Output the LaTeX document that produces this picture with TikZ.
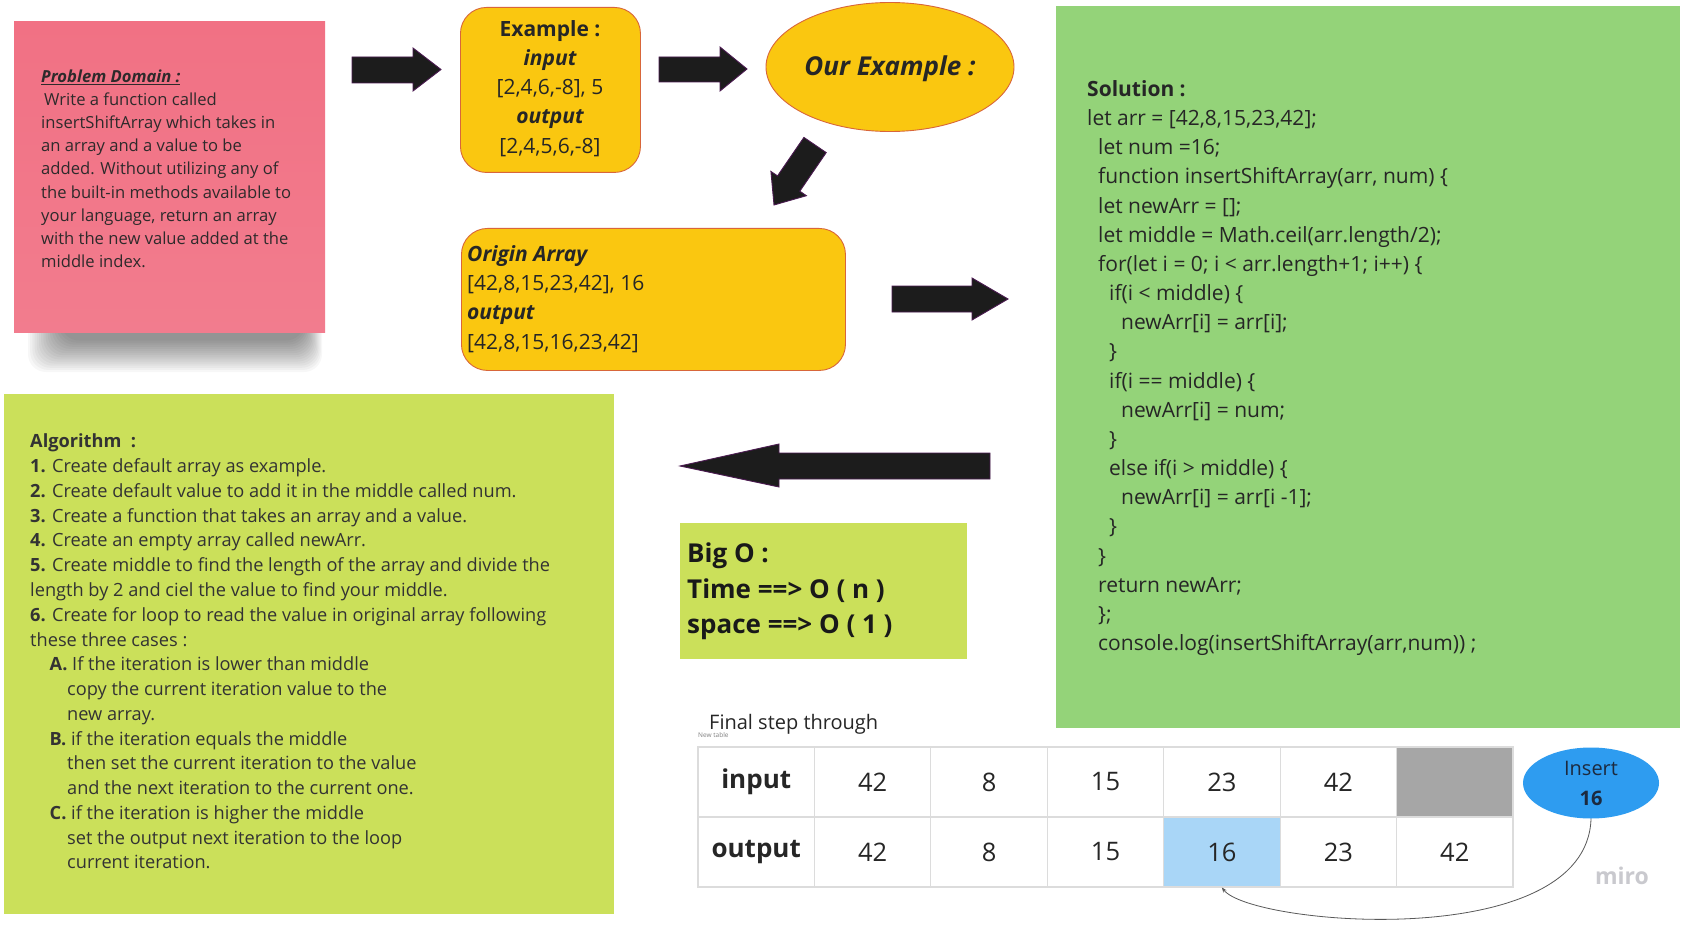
\documentclass[tikz,border=0pt]{standalone}
\usepackage{fontspec}
\setmainfont{Open Sans}
\usetikzlibrary{shapes.geometric,arrows.meta}
\definecolor{pinkbg}{HTML}{F17184}
\definecolor{pinktx}{HTML}{2E2A2B}
\definecolor{yel}{HTML}{FAC710}
\definecolor{ybord}{HTML}{D8663A}
\definecolor{solg}{HTML}{94D379}
\definecolor{algg}{HTML}{CBE05A}
\definecolor{txt}{HTML}{262626}
\definecolor{arrowfill}{HTML}{1C1C1C}
\definecolor{arrowedge}{HTML}{4A1A50}
\definecolor{gridc}{HTML}{DCDCDC}
\definecolor{graycell}{HTML}{A6A6A6}
\definecolor{bluecell}{HTML}{A9D6F7}
\definecolor{insblue}{HTML}{2E9CF0}
\definecolor{instext}{HTML}{1C2A3F}
\definecolor{mirog}{HTML}{C9C9CE}
\begin{document}
\begin{tikzpicture}[x=1pt,y=-1pt,
  ln/.style={anchor=base west, inner sep=0pt, text=txt},
  pline/.style={ln, text=pinktx, font=\fontsize{16.6}{20}\selectfont},
  eline/.style={anchor=base, inner sep=0pt, text=txt, font=\fontsize{21}{26}\selectfont},
  cline/.style={ln, font=\fontsize{21}{26}\selectfont},
  aline/.style={ln, text=black!80, font=\fontsize{18.2}{22}\selectfont},
  bline/.style={ln, text=black!90, font=\fontsize{26}{30}\selectfont\bfseries},
  ybox/.style={fill=yel, draw=ybord, line width=0.9pt, rounded corners=26pt, inner sep=0pt, anchor=north west},
  flatbox/.style={inner sep=0pt, anchor=north west},
  barrow/.style={fill=arrowfill, draw=arrowedge, line width=0.9pt, line join=miter},
  cell/.style={draw=gridc, line width=1.1pt, fill=white, minimum width=116.43pt, minimum height=70pt, inner sep=0pt, text=txt, font=\fontsize{25.5}{30}\selectfont},
  hcell/.style={cell, font=\fontsize{26}{30}\selectfont\bfseries},
  conn/.style={draw=black!65, line width=0.8pt, -{Stealth[length=5pt,width=4pt]}}
]
\fill[white] (0,0) rectangle (1688,925);
\useasboundingbox (0,0) rectangle (1688,925);

% ---------- problem domain note (soft shadow beneath) ----------
\foreach \k in {0,...,15}{
  \fill[black, opacity=0.032, rounded corners=18pt] (28+2.2*\k,300) rectangle (322-1.2*\k,372-2.1*\k);
}
\node[flatbox, top color=pinkbg, bottom color=pinkbg!92!white, minimum width=311pt, minimum height=311pt] (pd) at (14,21) {};
\node[pline] (p0) at (41,82.4) {\bfseries\itshape\underline{Problem Domain :}};
\node[pline] (p1) at (44,105.6) {Write a function called};
\node[pline] (p2) at (41,128.7) {insertShiftArray which takes in};
\node[pline] (p3) at (41,151.9) {an array and a value to be};
\node[pline] (p4) at (41,175.0) {added. Without utilizing any of};
\node[pline] (p5) at (41,198.2) {the built-in methods available to};
\node[pline] (p6) at (41,221.3) {your language, return an array};
\node[pline] (p7) at (41,244.5) {with the new value added at the};
\node[pline] (p8) at (41,267.6) {middle index.};

% ---------- block arrows ----------
\draw[barrow] (352,57) -- (413,57) -- (413,48) -- (441,69.5) -- (413,91) -- (413,83) -- (352,83) -- cycle;
\draw[barrow] (659,57) -- (720,57) -- (720,47) -- (747,69) -- (720,91) -- (720,82) -- (659,82) -- cycle;
\draw[barrow] (826.2,152.6) -- (803.9,137.4) -- (777.5,175.9) -- (770.9,171.4) -- (774,205) -- (806.4,195.7) -- (799.8,191.2) -- cycle;
\draw[barrow] (892,286) -- (972,286) -- (972,278) -- (1008,299) -- (972,320) -- (972,312) -- (892,312) -- cycle;
\draw[barrow] (990,453) -- (779,453) -- (779,444) -- (680,466) -- (779,487) -- (779,479) -- (990,479) -- cycle;

% ---------- example box ----------
\node[ybox, minimum width=180pt, minimum height=165pt] (ex) at (460,7) {};
\node[eline] (e0) at (550,36.5) {\bfseries Example :};
\node[eline] (e1) at (550,65.5) {\bfseries\itshape input};
\node[eline] (e2) at (550,94.5) {[2,4,6,-8], 5};
\node[eline] (e3) at (550,124) {\bfseries\itshape output};
\node[eline] (e4) at (550,153.5) {[2,4,5,6,-8]};

% ---------- our example ellipse ----------
\node[ellipse, fill=yel, draw=ybord, line width=0.9pt, minimum width=248pt, minimum height=129pt, inner sep=0pt] (oe) at (890,67) {};
\node[anchor=base, inner sep=0pt, text=txt, font=\fontsize{26}{30}\selectfont\bfseries\itshape] (oet) at (890,76) {Our Example :};

% ---------- origin array box ----------
\node[ybox, minimum width=384pt, minimum height=142pt] (oa) at (461,228) {};
\node[cline] (g0) at (467,261.5) {\bfseries\itshape Origin Array};
\node[cline] (g1) at (467,290) {[42,8,15,23,42], 16};
\node[cline] (g2) at (467,319) {\bfseries\itshape output};
\node[cline] (g3) at (467,349) {[42,8,15,16,23,42]};

% ---------- solution ----------
\node[flatbox, fill=solg, minimum width=624pt, minimum height=722pt] (sol) at (1056,6) {};
\node[cline] (s0) at (1087,96.5) {\bfseries Solution :};
\node[cline] (s1) at (1087,125.7) {let arr = [42,8,15,23,42];};
\node[cline] (s2) at (1098,154.8) {let num =16;};
\node[cline] (s3) at (1098,184.0) {function insertShiftArray(arr, num) \{};
\node[cline] (s4) at (1098,213.1) {let newArr = [];};
\node[cline] (s5) at (1098,242.3) {let middle = Math.ceil(arr.length/2);};
\node[cline] (s6) at (1098,271.5) {for(let i = 0; i < arr.length+1; i++) \{};
\node[cline] (s7) at (1109,300.6) {if(i < middle) \{};
\node[cline] (s8) at (1121,329.8) {newArr[i] = arr[i];};
\node[cline] (s9) at (1109,358.9) {\}};
\node[cline] (s10) at (1109,388.1) {if(i == middle) \{};
\node[cline] (s11) at (1121,417.3) {newArr[i] = num;};
\node[cline] (s12) at (1109,446.4) {\}};
\node[cline] (s13) at (1109,475.6) {else if(i > middle) \{};
\node[cline] (s14) at (1121,504.7) {newArr[i] = arr[i -1];};
\node[cline] (s15) at (1109,533.9) {\}};
\node[cline] (s16) at (1098,563.1) {\}};
\node[cline] (s17) at (1098,592.2) {return newArr;};
\node[cline] (s18) at (1098,621.4) {\};};
\node[cline] (s19) at (1098,650.5) {console.log(insertShiftArray(arr,num)) ;};

% ---------- algorithm ----------
\node[flatbox, fill=algg, minimum width=610pt, minimum height=520pt] (alg) at (4,394) {};
\node[aline] (a0) at (30,447.9) {\bfseries Algorithm\ \ :};
\node[aline] (a1) at (30,472.7) {\textbf{1.} Create default array as example.};
\node[aline] (a2) at (30,497.4) {\textbf{2.} Create default value to add it in the middle called num.};
\node[aline] (a3) at (30,522.2) {\textbf{3.} Create a function that takes an array and a value.};
\node[aline] (a4) at (30,546.9) {\textbf{4.} Create an empty array called newArr.};
\node[aline] (a5) at (30,571.7) {\textbf{5.} Create middle to find the length of the array and divide the};
\node[aline] (a6) at (30,596.5) {length by 2 and ciel the value to find your middle.};
\node[aline] (a7) at (30,621.2) {\textbf{6.} Create for loop to read the value in original array following};
\node[aline] (a8) at (30,646.0) {these three cases :};
\node[aline] (a9) at (49.5,670.7) {\textbf{A.} If the iteration is lower than middle};
\node[aline] (a10) at (67,695.5) {copy the current iteration value to the};
\node[aline] (a11) at (67,720.3) {new array.};
\node[aline] (a12) at (49.5,745.0) {\textbf{B.} if the iteration equals the middle};
\node[aline] (a13) at (67,769.8) {then set the current iteration to the value};
\node[aline] (a14) at (67,794.5) {and the next iteration to the current one.};
\node[aline] (a15) at (49.5,819.3) {\textbf{C.} if the iteration is higher the middle};
\node[aline] (a16) at (67,844.1) {set the output next iteration to the loop};
\node[aline] (a17) at (67,868.8) {current iteration.};

% ---------- big O ----------
\node[flatbox, fill=algg, minimum width=287pt, minimum height=136pt] (bo) at (680,523) {};
\node[bline] (b0) at (687,562) {Big O :};
\node[bline] (b1) at (687,598) {Time ==> O ( n )};
\node[bline] (b2) at (687,633) {space ==> O ( 1 )};

% ---------- final step table ----------
\node[ln, font=\fontsize{20}{24}\selectfont] (fst) at (709,729) {Final step through};
\node[ln, text=black!50, font=\fontsize{6.5}{8}\selectfont] (nt) at (698,737) {New table};
\node[hcell] (i0) at (756.2,782) {input};
\node[cell] (i1) at (872.6,782) {42};
\node[cell] (i2) at (989.1,782) {8};
\node[cell] (i3) at (1105.5,782) {15};
\node[cell] (i4) at (1221.9,782) {23};
\node[cell] (i5) at (1338.4,782) {42};
\node[cell, fill=graycell] (i6) at (1454.8,782) {};
\node[hcell] (o0) at (756.2,852) {output};
\node[cell] (o1) at (872.6,852) {42};
\node[cell] (o2) at (989.1,852) {8};
\node[cell] (o3) at (1105.5,852) {15};
\node[cell, fill=bluecell] (o4) at (1221.9,852) {16};
\node[cell] (o5) at (1338.4,852) {23};
\node[cell] (o6) at (1454.8,852) {42};

\node[ellipse, fill=insblue, minimum width=136pt, minimum height=71pt, inner sep=0pt, align=center, text=instext, font=\fontsize{20}{30}\selectfont] (ins) at (1591,783) {Insert\\\textbf{16}};
\draw[conn] (ins.south) .. controls +(-4,135) and +(29,38) .. (o4.south);

\node[text=mirog, font=\fontsize{23}{28}\selectfont\bfseries, inner sep=0pt] (miro) at (1622,876) {miro};
\end{tikzpicture}
\end{document}
